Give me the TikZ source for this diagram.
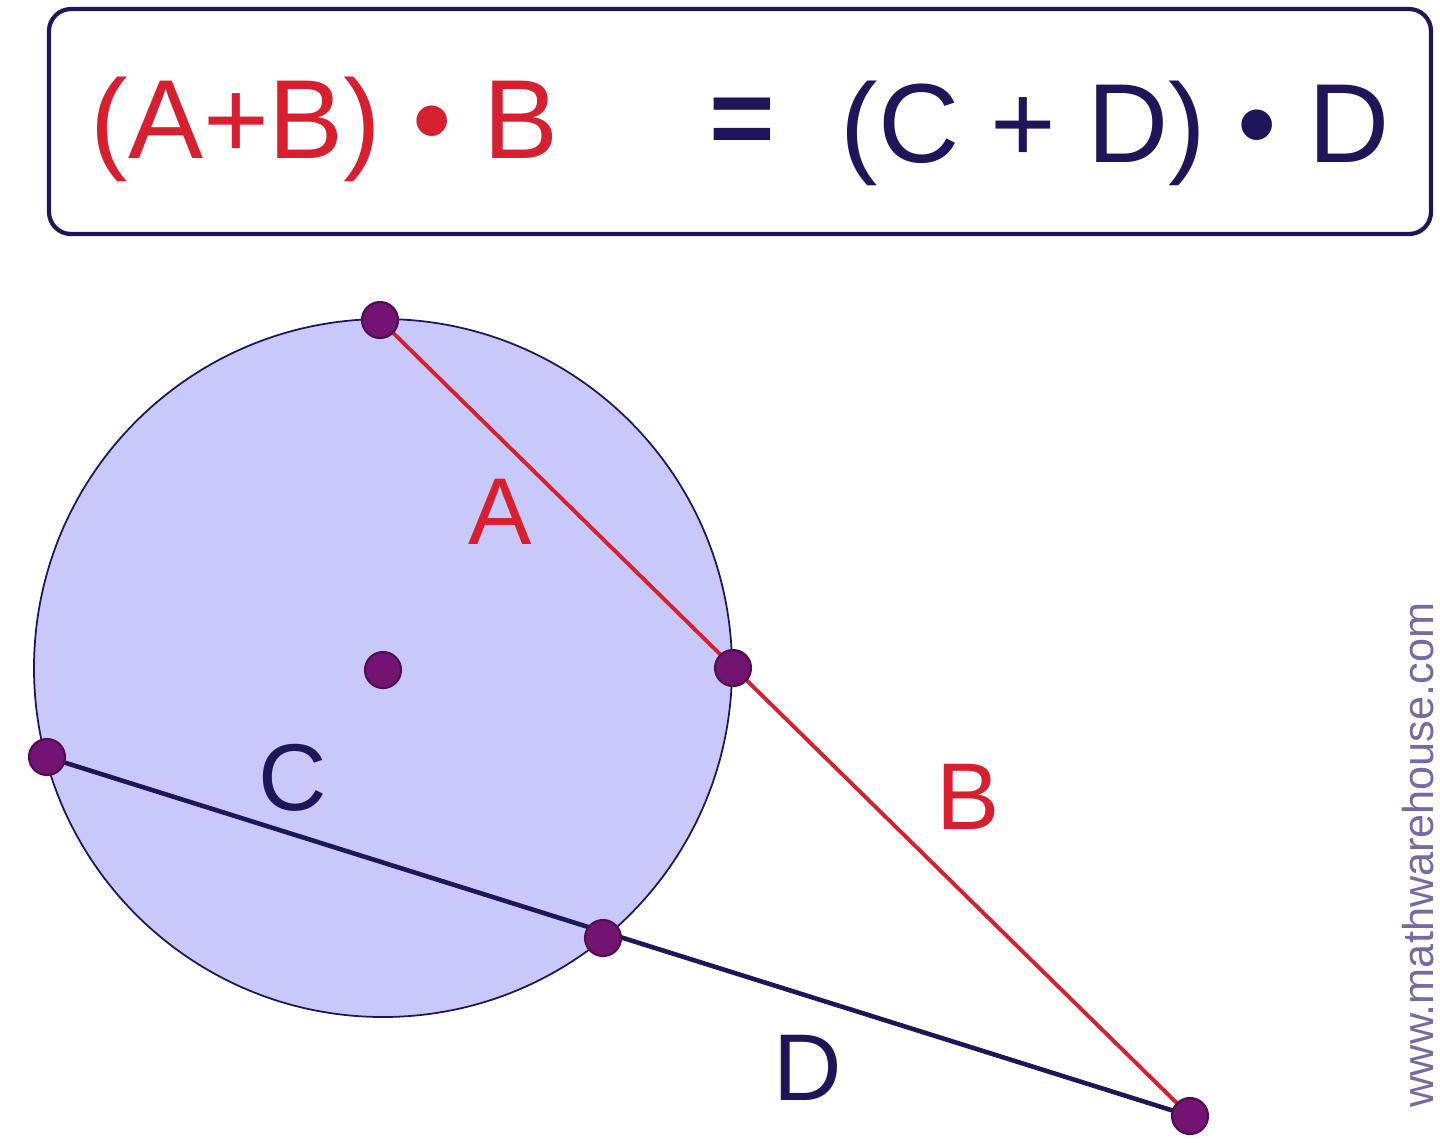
\documentclass[tikz,border=0pt]{standalone}
\usepackage{fontspec}
\setmainfont{Liberation Sans}
\usetikzlibrary{positioning}
\definecolor{secred}{RGB}{214,32,48}
\definecolor{secnavy}{RGB}{30,22,88}
\definecolor{discfill}{RGB}{200,200,250}
\definecolor{dotpurple}{RGB}{115,20,115}
\definecolor{markgray}{RGB}{120,105,160}
\tikzset{
  dot/.style={circle,fill=dotpurple,draw=dotpurple!70!black,line width=0.6pt,inner sep=0pt,minimum size=0.36cm},
  seclabel/.style={font=\fontsize{27}{30}\selectfont},
  eqtext/.style={font=\fontsize{32}{36}\selectfont,inner sep=0pt}
}
\begin{document}
\begin{tikzpicture}
  \useasboundingbox (0,0) rectangle (14.4,-11.42);

  % formula box
  \draw [secnavy,line width=1.2pt,rounded corners=0.22cm] (0.49,-0.09) rectangle (14.31,-2.34);
  \node [eqtext,text=secred,anchor=base west] (lhs) at (0.90,-1.58) {(A+B) • B};
  \node [eqtext,text=secnavy] (eq) at (7.42,-1.27) {\textbf{=}};
  \node [eqtext,text=secnavy,anchor=base west] (rhs) at (8.40,-1.62) {(C + D) • D};

  % circle
  \coordinate (o) at (3.83,-6.68);
  \draw [fill=discfill,draw=secnavy,line width=0.5pt] (o) circle (3.49);

  \coordinate (pa) at (3.80,-3.20);
  \coordinate (pb) at (7.33,-6.68);
  \coordinate (pc) at (0.47,-7.57);
  \coordinate (pd) at (6.03,-9.38);
  \coordinate (px) at (11.90,-11.16);

  \draw [secred,line width=1.1pt] (pa) -- (px);
  \draw [secnavy,line width=1.3pt] (pc) -- (px);

  \node [dot] (n1) at (pa) {};
  \node [dot] (n2) at (pb) {};
  \node [dot] (n3) at (pc) {};
  \node [dot] (n4) at (pd) {};
  \node [dot] (n5) at (px) {};
  \node [dot] (n6) at (3.83,-6.70) {};

  \node [seclabel,text=secred] (la) at (5.00,-5.12) {A};
  \node [seclabel,text=secred] (lb) at (9.68,-7.97) {B};
  \node [seclabel,text=secnavy] (lc) at (2.93,-7.78) {C};
  \node [seclabel,text=secnavy] (ld) at (8.08,-10.68) {D};

  \node [rotate=90,text=markgray,font=\fontsize{12.3}{14}\selectfont] (web) at (14.18,-8.55) {www.mathwarehouse.com};
\end{tikzpicture}
\end{document}
